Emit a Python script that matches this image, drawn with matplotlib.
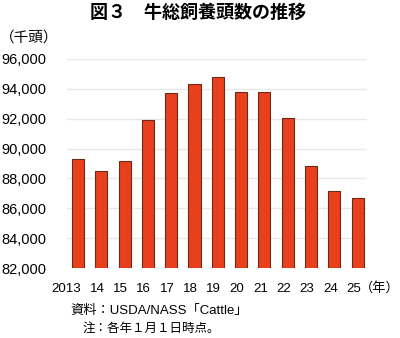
import matplotlib
matplotlib.use("Agg")
import matplotlib.pyplot as plt
import matplotlib.transforms as mtransforms

plt.rcParams['font.family'] = ['Liberation Sans', 'Noto Sans CJK JP', 'DejaVu Sans']

years = ["2013", "14", "15", "16", "17", "18", "19", "20", "21", "22", "23", "24", "25"]
heads = [89300, 88526, 89143, 91900, 93700, 94298, 94805, 93793, 93790, 92077, 88841, 87157, 86662]
yticks = [82000, 84000, 86000, 88000, 90000, 92000, 94000, 96000]

fig = plt.figure(figsize=(4, 3.38), dpi=100)
ax = fig.add_axes([67 / 400, 70 / 338, 300 / 400, 209 / 338])

x = list(range(len(years)))
ax.bar(x, heads, width=0.52, color="#e8401c", edgecolor="#6b2a18", linewidth=0.8, zorder=3)

ax.set_ylim(82000, 96000)
ax.set_xlim(-0.47, 12.4)
ax.set_yticks(yticks)
ax.set_yticklabels(["{:,}".format(v) for v in yticks], fontsize=10.5)
ax.set_xticks(x)
ax.set_xticklabels(years, fontsize=9.5)
ax.tick_params(axis="y", length=0, pad=15)
ax.tick_params(axis="x", length=0, pad=11)

# labels sit a little left of the bars, like the original
for i, lab in enumerate(ax.get_xticklabels()):
    dx = -3 / 72
    if i == 0:
        lab.set_horizontalalignment("right")
        dx = 2 / 72
    lab.set_transform(lab.get_transform() + mtransforms.ScaledTranslation(dx, 0, fig.dpi_scale_trans))

ax.grid(axis="y", color="#e8e8e8", linewidth=1, zorder=0)
for s in ax.spines.values():
    s.set_visible(False)

fig.text(198 / 400, 1 - 13 / 338, "図３　牛総飼養頭数の推移", ha="center", va="center",
         fontsize=13, fontweight="bold")
fig.text(0, 1 - 38 / 338, "（千頭）", ha="left", va="center", fontsize=10.5)
fig.text(360 / 400, 1 - 288 / 338, "（年）", ha="left", va="center", fontsize=9.5)
fig.text(70 / 400, 1 - 311 / 338, "資料：USDA/NASS「Cattle」", ha="left", va="center", fontsize=9.5)
fig.text(83 / 400, 1 - 329 / 338, "注：各年１月１日時点。", ha="left", va="center", fontsize=9)

fig.savefig("out.png", dpi=100)
